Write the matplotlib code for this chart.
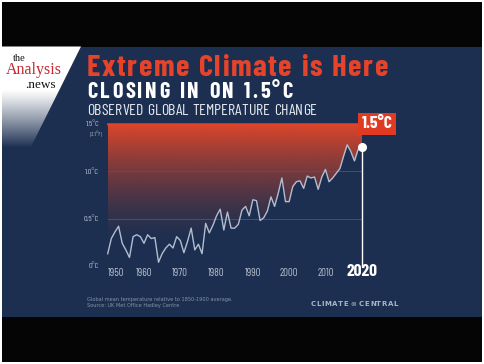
import matplotlib
matplotlib.use("Agg")
import matplotlib.pyplot as plt
import numpy as np
from matplotlib.patches import Rectangle, Polygon

# Global mean temperature anomaly (deg C vs 1850-1900)
years = list(range(1950, 2021))
anomaly = [0.13, 0.29, 0.36, 0.42, 0.24, 0.17, 0.09, 0.31, 0.33, 0.31,
           0.24, 0.33, 0.29, 0.30, 0.04, 0.13, 0.19, 0.23, 0.19, 0.31,
           0.27, 0.14, 0.26, 0.40, 0.17, 0.23, 0.13, 0.45, 0.35, 0.43,
           0.53, 0.60, 0.38, 0.57, 0.40, 0.40, 0.44, 0.59, 0.63, 0.53,
           0.70, 0.69, 0.48, 0.51, 0.58, 0.73, 0.63, 0.77, 0.93, 0.68,
           0.68, 0.84, 0.89, 0.90, 0.82, 0.95, 0.93, 0.94, 0.81, 0.94,
           1.02, 0.89, 0.93, 0.98, 1.03, 1.16, 1.28, 1.21, 1.11, 1.23,
           1.26]

threshold = 1.5
ytick_vals = [0, 0.5, 1.0, 1.5]
ytick_labels = ["0°C", "0.5°C", "1.0°C", "1.5°C"]
xtick_years = [1950, 1960, 1970, 1980, 1990, 2000, 2010]
last_year = 2020

NAVY = "#1c2f50"
RED = "#e5432a"
LIGHT = "#b4bdcb"
COND = ["Barlow Condensed", "DejaVu Sans"]
SERIF = ["Liberation Serif", "DejaVu Serif"]

W, H = 484, 364
fig = plt.figure(figsize=(W / 100, H / 100), dpi=100, facecolor="white")
renderer = fig.canvas.get_renderer()

# background layer in pixel coordinates
bg = fig.add_axes([0, 0, 1, 1])
bg.set_xlim(0, W)
bg.set_ylim(H, 0)
bg.axis("off")


def tracked(x, y, s, width, **kw):
    """Write s letter by letter so that it spans `width` pixels."""
    parts = []
    for ch in s:
        if ch == " ":
            parts.append((None, kw["fontsize"] * 100 / 72 * 0.22))
        else:
            t = bg.text(x, y, ch, va="baseline", **kw)
            parts.append((t, t.get_window_extent(renderer).width))
    natural = sum(w for _, w in parts)
    gap = (width - natural) / max(len(parts) - 1, 1)
    for t, w in parts:
        if t is not None:
            t.set_x(x)
        x += w + gap


bg.add_patch(Rectangle((2, 2), W - 4, H - 4, color="#050505", lw=0))
bg.add_patch(Rectangle((2, 46.5), W - 4, 270.5, color=NAVY, lw=0))

# logo corner: white fading to navy, cut on a diagonal
navy_rgb = np.array(matplotlib.colors.to_rgb(NAVY))
yy = np.linspace(46.5, 210, 200)
t = np.clip((yy - 90) / 58, 0, 1) ** 1.1
grad = (1 - t)[:, None] * np.ones(3) + t[:, None] * navy_rgb
img = bg.imshow(grad[:, None, :], extent=[2, 82, 210, 46.5], aspect="auto",
                zorder=2, interpolation="bilinear")
tri = Polygon([(2, 46.5), (81, 46.5), (2, 205)], closed=True,
              transform=bg.transData, facecolor="none", lw=0)
bg.add_patch(tri)
img.set_clip_path(tri)
bg.set_xlim(0, W)
bg.set_ylim(H, 0)

bg.text(12.5, 61, "the", family=SERIF, fontsize=7.5, color="#111111",
        va="baseline", zorder=5)
bg.text(5.5, 74.5, "Analysis", family=SERIF, fontsize=11.5, color="#c4262e",
        va="baseline", zorder=5)
bg.text(25.5, 87.5, ".news", family=SERIF, fontsize=9.5, color="#111111",
        va="baseline", zorder=5)

# headings
tracked(87, 76.5, "Extreme Climate is Here", 301, family=COND, fontsize=22,
        fontweight="bold", color=RED)
tracked(87, 98, "CLOSING IN ON 1.5°C", 206, family=COND, fontsize=16,
        fontweight="bold", color="white")
tracked(87, 115, "OBSERVED GLOBAL TEMPERATURE CHANGE", 230, family=COND,
        fontsize=11.5, color="#e6e9ee")

# footnotes
bg.text(87, 300.5, "Global mean temperature relative to 1850-1900 average.",
        fontsize=3.6, color="#8794a8", va="baseline")
bg.text(87, 306.5, "Source: UK Met Office Hadley Centre",
        fontsize=3.6, color="#8794a8", va="baseline")
tracked(311, 306.5, "CLIMATE \u221e CENTRAL", 87, fontsize=5,
        fontweight="bold", color="#aab4c4")

# chart
ax = fig.add_axes([107.7 / W, 1 - 266 / H, 254 / W, 142 / H])
ax.patch.set_alpha(0)
for s in ax.spines.values():
    s.set_visible(False)

# red gradient up to the 1.5 degree line, masked below the record
red_rgb = np.array(matplotlib.colors.to_rgb("#dc462a"))
ylev = np.linspace(0, threshold, 300)
alpha = np.clip((ylev - 0.22) / 1.28, 0, 1) ** 1.5
rgba = np.zeros((300, 1, 4))
rgba[:, 0, :3] = red_rgb
rgba[:, 0, 3] = alpha
ax.imshow(rgba, extent=[years[0], last_year, 0, threshold],
          origin="lower", aspect="auto", zorder=1, interpolation="bilinear")
ax.fill_between(years, 0, anomaly, color=NAVY, lw=0, zorder=1.5)
ax.set_xlim(years[0], last_year)
ax.set_ylim(0, threshold)

for v in ytick_vals[:-1]:
    ax.axhline(v, color="#46587a", lw=0.6, zorder=2)
ax.axhline(threshold, color=RED, lw=1.8, zorder=3, clip_on=False)

ax.plot(years, anomaly, color="#b2bdcf", lw=1.0, zorder=4, clip_on=False)
ax.plot([last_year, last_year], [0, anomaly[-1]], color="white", lw=1.0,
        zorder=4, clip_on=False)
ax.plot([last_year], [anomaly[-1]], "o", color="white", ms=5.5, zorder=5,
        clip_on=False)

ax.text(last_year, threshold, "1.5°C", family=COND, fontsize=12.5,
        fontweight="bold", color="white", ha="left", va="center",
        bbox=dict(boxstyle="square,pad=0.22", fc="#e03b22", ec="none"),
        zorder=6)

ax.set_yticks(ytick_vals)
ax.set_yticklabels(ytick_labels, family=COND, fontsize=6, color=LIGHT)
ax.annotate("(2.7°F)", xy=(0, threshold),
            xycoords=("axes fraction", "data"), xytext=(-4.5, -4.6),
            textcoords="offset points", family=COND, fontsize=4,
            color=LIGHT, ha="right", va="top")
ax.set_xticks(xtick_years + [last_year])
ax.set_xticklabels([str(y) for y in xtick_years] + [str(last_year)],
                   family=COND, fontsize=7.8, color=LIGHT)
ax.tick_params(length=0, pad=6)
ax.tick_params(axis="x", pad=7)
xl = ax.get_xticklabels()
xl[0].set_ha("left")
xl[-1].set_fontsize(12.5)
xl[-1].set_fontweight("bold")
xl[-1].set_color("white")
for lab in xl:
    lab.set_va("baseline")

fig.savefig("out.png", dpi=100, facecolor="white")
